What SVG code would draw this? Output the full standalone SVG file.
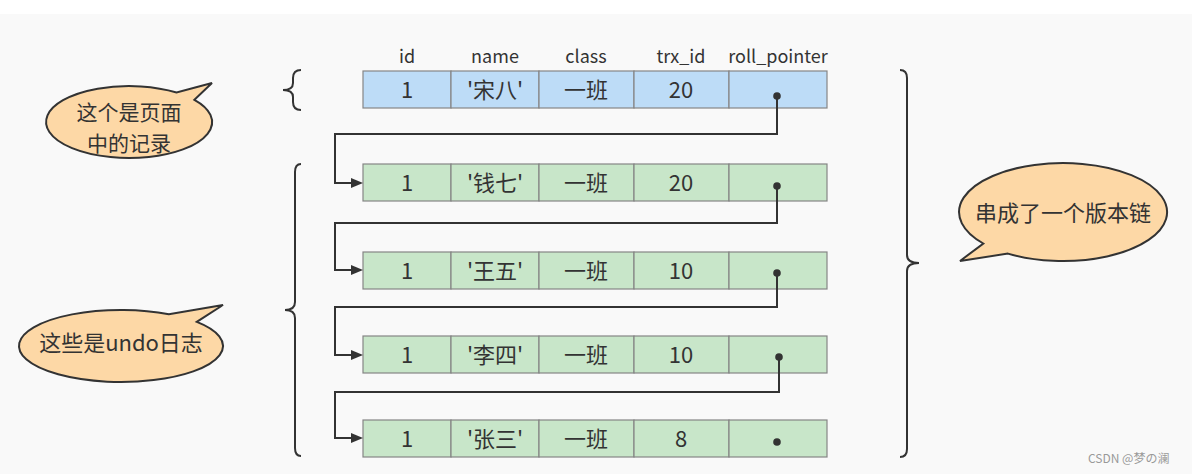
<svg xmlns="http://www.w3.org/2000/svg" width="1192" height="474" viewBox="0 0 1192 474">
<defs>
<style>
.hdr{font-family:"Noto Sans CJK SC","Liberation Sans",sans-serif;font-size:18px;fill:#333;text-anchor:middle}
.cell{font-family:"Noto Sans CJK SC","Liberation Sans",sans-serif;font-size:22px;fill:#333;text-anchor:middle}
.blue{fill:#bddcf7;stroke:#858585;stroke-width:1.2}
.green{fill:#c8e6c9;stroke:#858585;stroke-width:1.2}
.brace{fill:none;stroke:#333;stroke-width:2}
.conn{fill:none;stroke:#333;stroke-width:2;marker-end:url(#arr)}
.dot{fill:#333}
.bub{fill:#fdd8a6;stroke:#333;stroke-width:2}
.btxt{font-family:"Noto Sans CJK SC","Liberation Sans",sans-serif;font-size:22px;fill:#333;text-anchor:middle}
.btxt2{font-family:"Noto Sans CJK SC","Liberation Sans",sans-serif;font-size:21px;fill:#333;text-anchor:middle}
</style>
<marker id="arr" markerWidth="12" markerHeight="10" refX="0" refY="5" orient="auto" markerUnits="userSpaceOnUse">
<path d="M0,0 L12,5 L0,10 Z" fill="#333"/>
</marker>
</defs>
<rect x="0" y="0" width="1192" height="474" fill="#ffffff"/>
<rect x="0" y="14" width="1192" height="460" fill="#f9f9f9"/>

<g id="headers">
<text class="hdr" x="407" y="63">id</text>
<text class="hdr" x="495" y="63">name</text>
<text class="hdr" x="586" y="63">class</text>
<text class="hdr" x="681" y="63">trx_id</text>
<text class="hdr" x="778" y="63">roll_pointer</text>
</g>

<g id="row1">
<rect class="blue" x="363" y="71" width="88" height="37"/>
<rect class="blue" x="451" y="71" width="88" height="37"/>
<rect class="blue" x="539" y="71" width="95" height="37"/>
<rect class="blue" x="634" y="71" width="95" height="37"/>
<rect class="blue" x="729" y="71" width="98" height="37"/>
<text class="cell" x="407" y="98">1</text>
<text class="cell" x="495" y="98">'宋八'</text>
<text class="cell" x="586" y="98">一班</text>
<text class="cell" x="681" y="98">20</text>
<circle class="dot" cx="777" cy="96" r="3.8"/>
</g>

<g id="row2">
<rect class="green" x="363" y="164" width="88" height="37"/>
<rect class="green" x="451" y="164" width="88" height="37"/>
<rect class="green" x="539" y="164" width="95" height="37"/>
<rect class="green" x="634" y="164" width="95" height="37"/>
<rect class="green" x="729" y="164" width="98" height="37"/>
<text class="cell" x="407" y="191">1</text>
<text class="cell" x="495" y="191">'钱七'</text>
<text class="cell" x="586" y="191">一班</text>
<text class="cell" x="681" y="191">20</text>
<circle class="dot" cx="777" cy="186" r="3.8"/>
</g>

<g id="row3">
<rect class="green" x="363" y="252" width="88" height="37"/>
<rect class="green" x="451" y="252" width="88" height="37"/>
<rect class="green" x="539" y="252" width="95" height="37"/>
<rect class="green" x="634" y="252" width="95" height="37"/>
<rect class="green" x="729" y="252" width="98" height="37"/>
<text class="cell" x="407" y="279">1</text>
<text class="cell" x="495" y="279">'王五'</text>
<text class="cell" x="586" y="279">一班</text>
<text class="cell" x="681" y="279">10</text>
<circle class="dot" cx="777" cy="273" r="3.8"/>
</g>

<g id="row4">
<rect class="green" x="363" y="336" width="88" height="37"/>
<rect class="green" x="451" y="336" width="88" height="37"/>
<rect class="green" x="539" y="336" width="95" height="37"/>
<rect class="green" x="634" y="336" width="95" height="37"/>
<rect class="green" x="729" y="336" width="98" height="37"/>
<text class="cell" x="407" y="363">1</text>
<text class="cell" x="495" y="363">'李四'</text>
<text class="cell" x="586" y="363">一班</text>
<text class="cell" x="681" y="363">10</text>
<circle class="dot" cx="779" cy="357" r="3.8"/>
</g>

<g id="row5">
<rect class="green" x="363" y="420" width="88" height="37"/>
<rect class="green" x="451" y="420" width="88" height="37"/>
<rect class="green" x="539" y="420" width="95" height="37"/>
<rect class="green" x="634" y="420" width="95" height="37"/>
<rect class="green" x="729" y="420" width="98" height="37"/>
<text class="cell" x="407" y="447">1</text>
<text class="cell" x="495" y="447">'张三'</text>
<text class="cell" x="586" y="447">一班</text>
<text class="cell" x="681" y="447">8</text>
<circle class="dot" cx="777" cy="442" r="3.8"/>
</g>

<g id="connectors">
<path class="conn" d="M777,96 V134 H335 V183 H351"/>
<path class="conn" d="M777,186 V223 H335 V270 H351"/>
<path class="conn" d="M777,273 V307 H335 V355 H351"/>
<path class="conn" d="M779,357 V392 H335 V438 H351"/>
</g>

<g id="braces">
<path class="brace" d="M301,70 Q293,70 293,78 L293,83 Q293,90 283,90 Q293,90 293,97 L293,102 Q293,110 301,110"/>
<path class="brace" d="M301,164 Q295,164 295,172 L295,302 Q295,310 285,310 Q295,310 295,318 L295,448 Q295,456 301,456"/>
<path class="brace" d="M900,70 Q907,70 907,78 L907,255 Q907,263 919,263 Q907,263 907,271 L907,449 Q907,457 900,457"/>
</g>

<g id="bubble1">
<path class="bub" d="M176.6,92.5 A83,36 0 1 0 194.4,99.8 L212,83 Z"/>
<text class="btxt2" x="129" y="120">这个是页面</text>
<text class="btxt2" x="129" y="151">中的记录</text>
</g>

<g id="bubble2">
<path class="bub" d="M168.9,314.2 A102,36 0 1 0 196.8,321.9 L223,305 Z"/>
<text class="btxt" x="121" y="351">这些是undo日志</text>
</g>

<g id="bubble3">
<path class="bub" d="M983.3,243.5 A104,49 0 1 1 1007.9,253.6 L960,261 Z"/>
<text class="btxt" x="1063" y="221">串成了一个版本链</text>
</g>

<text x="1088" y="463" font-family="Noto Sans CJK SC, Liberation Sans, sans-serif" font-size="12" fill="#999">CSDN @梦の澜</text>
</svg>
